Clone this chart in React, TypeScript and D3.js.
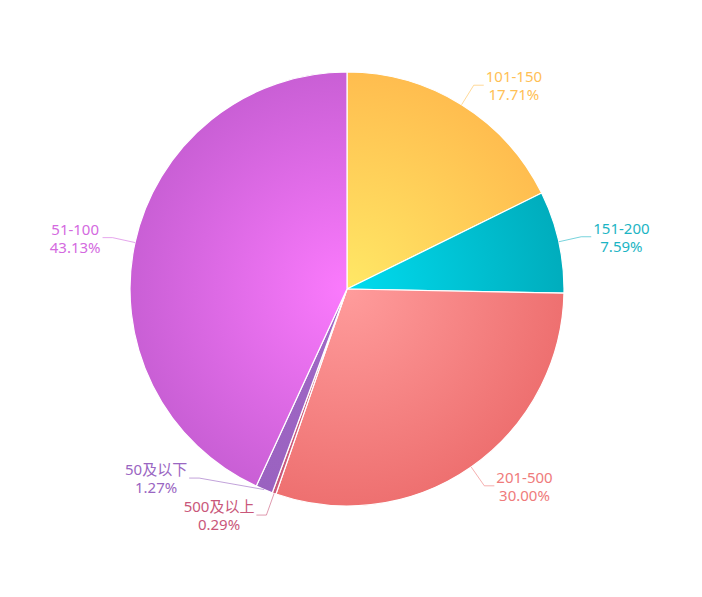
import React, { useEffect, useRef } from "react";
import * as d3 from "d3";

const categories = ["101-150", "151-200", "201-500", "500及以上", "50及以下", "51-100"];
const values = [17.71, 7.59, 30.0, 0.29, 1.27, 43.13];
const percentLabels = ["17.71%", "7.59%", "30.00%", "0.29%", "1.27%", "43.13%"];
const innerColors = ["#ffe866", "#00dcef", "#ff9c9c", "#d2607f", "#a068c6", "#fb7afd"];
const outerColors = ["#ffbd4f", "#00adbd", "#ee7070", "#c9577a", "#9a62c0", "#c95fd5"];
const textColors = ["#ffbf55", "#1cb5c4", "#ef7b7b", "#c9577a", "#9a66c2", "#d46adf"];

const W = 702;
const H = 597;
const CX = 347;
const CY = 289;
const R = 217;
const LEN1 = 23;
const LEN2 = 10;
const GAP = 2;
const LINE_H = 18;
const BLOCK_H = 37;

export default function App() {
  const ref = useRef<SVGSVGElement | null>(null);

  useEffect(() => {
    const svg = d3.select(ref.current);
    svg.selectAll("*").remove();

    const data = categories.map((c, i) => ({ name: c, value: values[i], pct: percentLabels[i], i }));

    const defs = svg.append("defs");
    data.forEach((d) => {
      const g = defs.append("radialGradient")
        .attr("id", "grad" + d.i)
        .attr("gradientUnits", "userSpaceOnUse")
        .attr("cx", 0).attr("cy", 0).attr("r", R);
      g.append("stop").attr("offset", "0%").attr("stop-color", innerColors[d.i]);
      g.append("stop").attr("offset", "100%").attr("stop-color", outerColors[d.i]);
    });

    const pie = d3.pie<any>().value((d) => d.value).sort(null);
    const arcs = pie(data);
    const arc = d3.arc<any>().innerRadius(0).outerRadius(R);

    const g = svg.append("g").attr("transform", `translate(${CX},${CY})`);
    g.selectAll("path.slice")
      .data(arcs)
      .enter()
      .append("path")
      .attr("class", "slice")
      .attr("d", arc as any)
      .attr("fill", (d: any) => `url(#grad${d.data.i})`)
      .attr("stroke", "#fff")
      .attr("stroke-width", 1.2)
      .attr("stroke-linejoin", "round");

    const R2 = R + LEN1;
    const labels = arcs.map((a: any) => {
      const mid = (a.startAngle + a.endAngle) / 2;
      const side = Math.sin(mid) >= 0 ? 1 : -1;
      return {
        mid,
        side,
        y: -R2 * Math.cos(mid),
        x: 0,
        name: a.data.name as string,
        pct: a.data.pct as string,
        color: textColors[a.data.i],
      };
    });

    [1, -1].forEach((side) => {
      const list = labels.filter((l) => l.side === side).sort((p, q) => q.y - p.y);
      for (let k = 1; k < list.length; k++) {
        const below = list[k - 1];
        const cur = list[k];
        if (below.y - cur.y < BLOCK_H) cur.y = below.y - BLOCK_H;
      }
    });
    labels.forEach((l) => {
      const dy = Math.min(Math.abs(l.y), R2);
      l.x = l.side * Math.sqrt(R2 * R2 - dy * dy);
    });

    const lg = g.append("g");
    labels.forEach((l) => {
      const ex = R * Math.sin(l.mid);
      const ey = -R * Math.cos(l.mid);
      const endX = l.x + l.side * LEN2;
      lg.append("polyline")
        .attr("points", `${ex},${ey} ${l.x},${l.y} ${endX},${l.y}`)
        .attr("fill", "none")
        .attr("stroke", l.color)
        .attr("stroke-opacity", 0.6)
        .attr("stroke-width", 1);

      const t = lg.append("g");
      const mk = (txt: string, y: number) =>
        t.append("text")
          .attr("y", y)
          .attr("dominant-baseline", "central")
          .attr("text-anchor", "middle")
          .attr("fill", l.color)
          .style("font-family", "'Noto Sans', 'Noto Sans CJK SC', sans-serif")
          .style("font-size", "15px")
          .text(txt);
      const t1 = mk(l.name, l.y - LINE_H / 2);
      const t2 = mk(l.pct, l.y + LINE_H / 2);
      const w = Math.max(
        (t1.node() as SVGTextElement).getComputedTextLength(),
        (t2.node() as SVGTextElement).getComputedTextLength()
      );
      const tx = endX + l.side * (GAP + w / 2);
      t1.attr("x", tx);
      t2.attr("x", tx);
    });
  }, []);

  return (
    <svg
      ref={ref}
      width={W}
      height={H}
      style={{ position: "absolute", left: 0, top: 0, background: "#fff" }}
    />
  );
}
